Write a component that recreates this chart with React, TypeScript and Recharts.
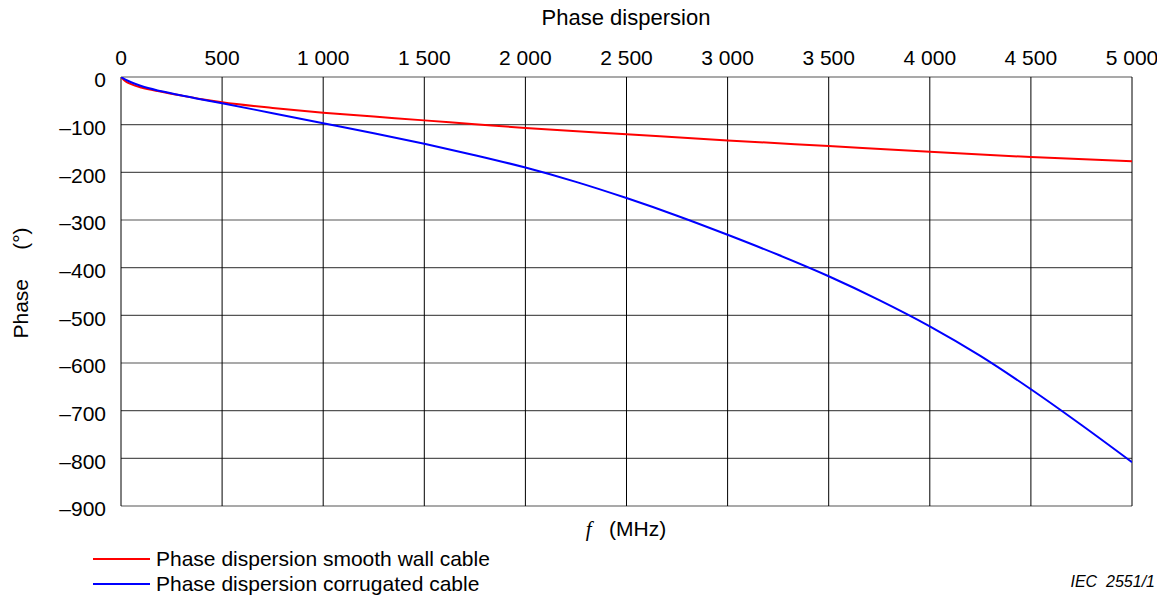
import React from "react";
import { LineChart, Line, XAxis, YAxis, CartesianGrid } from "recharts";

const xTicks = [0, 500, 1000, 1500, 2000, 2500, 3000, 3500, 4000, 4500, 5000];
const yTicks = [0, -100, -200, -300, -400, -500, -600, -700, -800, -900];

const freqSmooth = [0, 25, 50, 100, 200, 300, 400, 500, 750, 1000, 1250, 1500, 1750, 2000, 2500, 3000, 3500, 4000, 4500, 5000];
const phaseSmooth = [0, -10, -15, -22, -31, -39, -46.5, -53, -65, -75, -83, -91, -99, -107, -120, -133, -145, -157, -168, -177];

const freqCorr = [0, 25, 50, 100, 200, 300, 400, 500, 750, 1000, 1250, 1500, 1750, 2000, 2250, 2500, 2750, 3000, 3250, 3500, 3750, 4000, 4250, 4500, 4750, 5000];
const phaseCorr = [0, -6, -11, -19, -30, -39, -47, -55, -76, -97, -118, -140, -164, -190, -220, -254, -291, -331, -373, -418, -468, -523, -585, -655, -730, -808];

const seriesNames = ["Phase dispersion smooth wall cable", "Phase dispersion corrugated cable"];
const seriesColors = ["#ff0000", "#0000ff"];

const smoothData = freqSmooth.map((f, i) => ({ f, v: phaseSmooth[i] }));
const corrData = freqCorr.map((f, i) => ({ f, v: phaseCorr[i] }));

const FONT = "'Liberation Sans', Arial, Helvetica, sans-serif";
const FS = 21;

const fmtX = (n: number) =>
  n >= 1000 ? `${Math.floor(n / 1000)} ${String(n % 1000).padStart(3, "0")}` : String(n);
const fmtY = (n: number) => (n < 0 ? `\u2013${-n}` : "0");

export default function App() {
  return (
    <div
      style={{
        position: "absolute",
        left: 0,
        top: 0,
        width: 1157,
        height: 599,
        background: "#fff",
        fontFamily: FONT,
        color: "#000",
      }}
    >
      <LineChart
        width={1157}
        height={599}
        margin={{ top: 37, right: 25, bottom: 93, left: 41 }}
        style={{ fontFamily: FONT }}
      >
        <CartesianGrid vertical={false} stroke="#555" strokeWidth={1.2} />
        <CartesianGrid horizontal={false} stroke="#000" strokeWidth={1} />
        <XAxis
          xAxisId={0}
          dataKey="f"
          type="number"
          orientation="top"
          domain={[0, 5000]}
          ticks={xTicks}
          tickFormatter={fmtX}
          height={40}
          axisLine={false}
          tickLine={false}
          tickSize={0}
          tickMargin={12}
          tick={{ fill: "#000", fontSize: FS, fontFamily: FONT }}
          allowDataOverflow
        />
        <YAxis
          type="number"
          domain={[-900, 0]}
          ticks={yTicks}
          tickFormatter={fmtY}
          width={80}
          axisLine={false}
          tickLine={false}
          tickSize={0}
          tickMargin={15}
          tick={{ fill: "#000", fontSize: FS, fontFamily: FONT, dy: 3 }}
          allowDataOverflow
        />
        <Line
          data={smoothData}
          dataKey="v"
          type="monotone"
          stroke={seriesColors[0]}
          strokeWidth={2}
          dot={false}
          isAnimationActive={false}
          name={seriesNames[0]}
        />
        <Line
          data={corrData}
          dataKey="v"
          type="monotone"
          stroke={seriesColors[1]}
          strokeWidth={2}
          dot={false}
          isAnimationActive={false}
          name={seriesNames[1]}
        />
      </LineChart>

      <div
        style={{
          position: "absolute",
          left: 426,
          width: 400,
          top: 5,
          textAlign: "center",
          fontSize: 22,
          lineHeight: "26px",
        }}
      >
        Phase dispersion
      </div>

      <div
        style={{
          position: "absolute",
          left: 21,
          top: 283,
          transform: "translate(-50%, -50%) rotate(-90deg)",
          fontSize: FS,
          whiteSpace: "pre",
          lineHeight: "24px",
        }}
      >
        {"Phase     (°)"}
      </div>

      <div
        style={{
          position: "absolute",
          left: 426,
          width: 400,
          top: 517,
          textAlign: "center",
          fontSize: FS,
          whiteSpace: "pre",
          lineHeight: "24px",
        }}
      >
        <span style={{ fontFamily: "'Liberation Serif', 'Times New Roman', serif", fontStyle: "italic" }}>f</span>
        {"   (MHz)"}
      </div>

      {seriesNames.map((name, i) => (
        <div
          key={name}
          style={{
            position: "absolute",
            left: 93,
            top: 547 + i * 25,
            height: 24,
            display: "flex",
            alignItems: "center",
            fontSize: FS,
            whiteSpace: "nowrap",
          }}
        >
          <div style={{ width: 57, height: 2, background: seriesColors[i], marginRight: 6 }} />
          <span>{name}</span>
        </div>
      ))}

      <div
        style={{
          position: "absolute",
          right: 2,
          top: 572,
          fontSize: 16,
          fontStyle: "italic",
          whiteSpace: "pre",
          lineHeight: "20px",
        }}
      >
        {"IEC  2551/1"}
      </div>
    </div>
  );
}
